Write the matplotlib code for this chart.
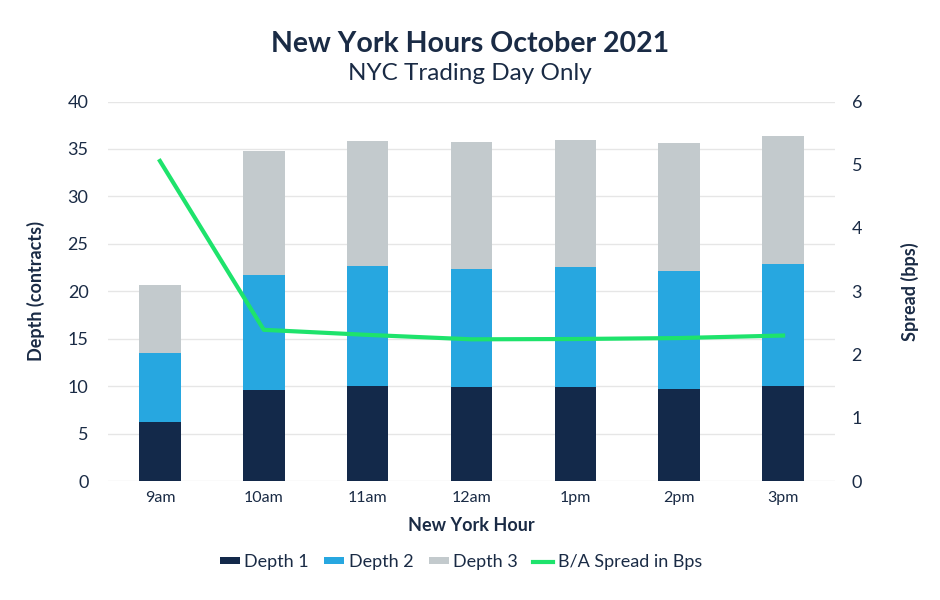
import matplotlib
matplotlib.use("Agg")
import matplotlib.pyplot as plt
import numpy as np

hours = ["9am", "10am", "11am", "12am", "1pm", "2pm", "3pm"]
depth1 = [6.27, 9.59, 9.97, 9.86, 9.86, 9.69, 9.97]
depth2_top = [13.53, 21.67, 22.62, 22.30, 22.59, 22.17, 22.83]
depth3_top = [20.64, 34.80, 35.84, 35.73, 35.97, 35.59, 36.40]
spread = [5.06, 2.39, 2.31, 2.24, 2.245, 2.26, 2.30]

depth2 = [b - a for a, b in zip(depth1, depth2_top)]
depth3 = [c - b for b, c in zip(depth2_top, depth3_top)]

navy = "#13294a"
blue = "#27a7e0"
grey = "#c3cacd"
green = "#1ee36c"
txt = "#1a2b45"

plt.rcParams['font.family'] = ['Lato', 'DejaVu Sans']

fig = plt.figure(figsize=(9.4, 6.0), dpi=100)
ax = fig.add_axes([108/940, 1 - 481/600, (835-108)/940, (481-101.5)/600])
x = np.arange(len(hours))
w = 0.4
b1 = ax.bar(x, depth1, w, color=navy, label="Depth 1", zorder=2)
b2 = ax.bar(x, depth2, w, bottom=depth1, color=blue, label="Depth 2", zorder=2)
b3 = ax.bar(x, depth3, w, bottom=depth2_top, color=grey, label="Depth 3", zorder=2)
ax.set_xlim(-0.5, len(hours) - 0.5)
ax.set_ylim(0, 40)
ax.set_yticks(range(0, 41, 5))
ax.grid(axis='y', color="#e6e6e6", linewidth=1, zorder=0)
ax.set_axisbelow(True)
for s in ax.spines.values():
    s.set_visible(False)
ax.tick_params(axis='both', length=0, colors=txt, labelsize=13)
ax.tick_params(axis='x', labelsize=11.5, pad=7)
ax.tick_params(axis='y', pad=14)
ax.set_xticks(x)
ax.set_xticklabels(hours)
ax.set_ylabel("Depth (contracts)", fontsize=13, fontweight='bold', color=txt, labelpad=16)
ax.set_xlabel("New York Hour", fontsize=13, fontweight='bold', color=txt, labelpad=9)

ax2 = ax.twinx()
ln, = ax2.plot(x, spread, color=green, linewidth=3, label="B/A Spread in Bps", zorder=3)
ax2.set_ylim(0, 6)
ax2.set_yticks(range(0, 7))
for s in ax2.spines.values():
    s.set_visible(False)
ax2.tick_params(axis='y', length=0, colors=txt, labelsize=13, pad=12)
ax2.set_ylabel("Spread (bps)", fontsize=13, fontweight='bold', color=txt, labelpad=28)

fig.text(0.5, 1 - 44/600, "New York Hours October 2021", ha='center', va='center',
         fontsize=20.5, fontweight='bold', color=txt)
fig.text(0.5, 1 - 74/600, "NYC Trading Day Only", ha='center', va='center',
         fontsize=17.5, color=txt)

leg = fig.legend([b1, b2, b3, ln], ["Depth 1", "Depth 2", "Depth 3", "B/A Spread in Bps"],
                 loc='center', bbox_to_anchor=(461/940, 1 - 562/600), ncol=4, frameon=False,
                 fontsize=13, handlelength=1.1, handleheight=0.3, columnspacing=0.85,
                 handletextpad=0.25)
for t in leg.get_texts():
    t.set_color(txt)

fig.savefig("out.png", dpi=100, facecolor='white')
